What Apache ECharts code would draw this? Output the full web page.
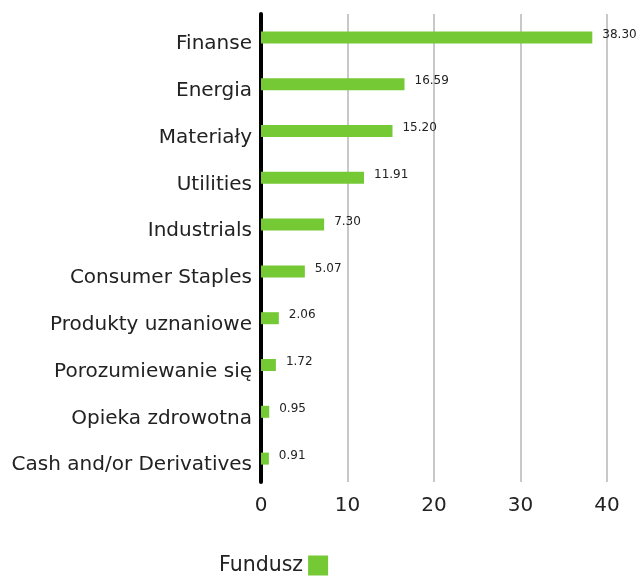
<!DOCTYPE html>
<html>
<head>
<meta charset="utf-8">
<script src="https://cdn.jsdelivr.net/npm/echarts@6/dist/echarts.min.js"></script>
<style>
  html, body { margin: 0; padding: 0; background: #fff; }
  #chart { width: 641px; height: 578px; }
</style>
</head>
<body>
<div id="chart"></div>
<script>
// sektory (od dołu do góry, bo oś kategorii rośnie w górę)
var categories = ['Cash and/or Derivatives', 'Opieka zdrowotna', 'Porozumiewanie się', 'Produkty uznaniowe',
    'Consumer Staples', 'Industrials', 'Utilities', 'Materiały', 'Energia', 'Finanse'];
var fundValues = [0.91, 0.95, 1.72, 2.06, 5.07, 7.30, 11.91, 15.20, 16.59, 38.30];
var seriesName = 'Fundusz';

var myChart = echarts.init(document.getElementById('chart'));
var font = '"DejaVu Sans", sans-serif';

var option = {
    backgroundColor: '#fff',
    animation: false,
    textStyle: { fontFamily: font },
    grid: {
        left: 261,
        right: 34,
        top: 14,
        height: 468
    },
    legend: {
        data: [seriesName],
        left: 214,
        top: 550,
        align: 'right',
        itemWidth: 20,
        itemHeight: 20,
        icon: 'rect',
        textStyle: { fontSize: 20.5, color: '#222', fontFamily: font }
    },
    xAxis: {
        type: 'value',
        min: 0,
        max: 40,
        interval: 10,
        axisLine: { show: false },
        axisTick: { show: false },
        splitLine: { lineStyle: { color: '#c8c8c8', width: 2 } },
        axisLabel: { fontSize: 20, color: '#222', margin: 14, fontFamily: font }
    },
    yAxis: {
        type: 'category',
        data: categories,
        axisLine: { lineStyle: { color: '#000', width: 4 } },
        axisTick: { show: false },
        axisLabel: {
            fontSize: 20, color: '#222', margin: 9, fontFamily: font,
            // etykiety leżą trochę niżej niż słupki
            verticalAlign: 'top',
            lineHeight: 13
        }
    },
    series: [{
        name: seriesName,
        type: 'bar',
        data: fundValues,
        barWidth: 12,
        itemStyle: { color: '#74c935' },
        label: {
            show: true,
            position: 'right',
            distance: 10,
            offset: [0, -3],
            fontSize: 12,
            color: '#222',
            fontFamily: font,
            formatter: function (p) { return p.value.toFixed(2); }
        }
    }]
};
myChart.setOption(option);
</script>
</body>
</html>
